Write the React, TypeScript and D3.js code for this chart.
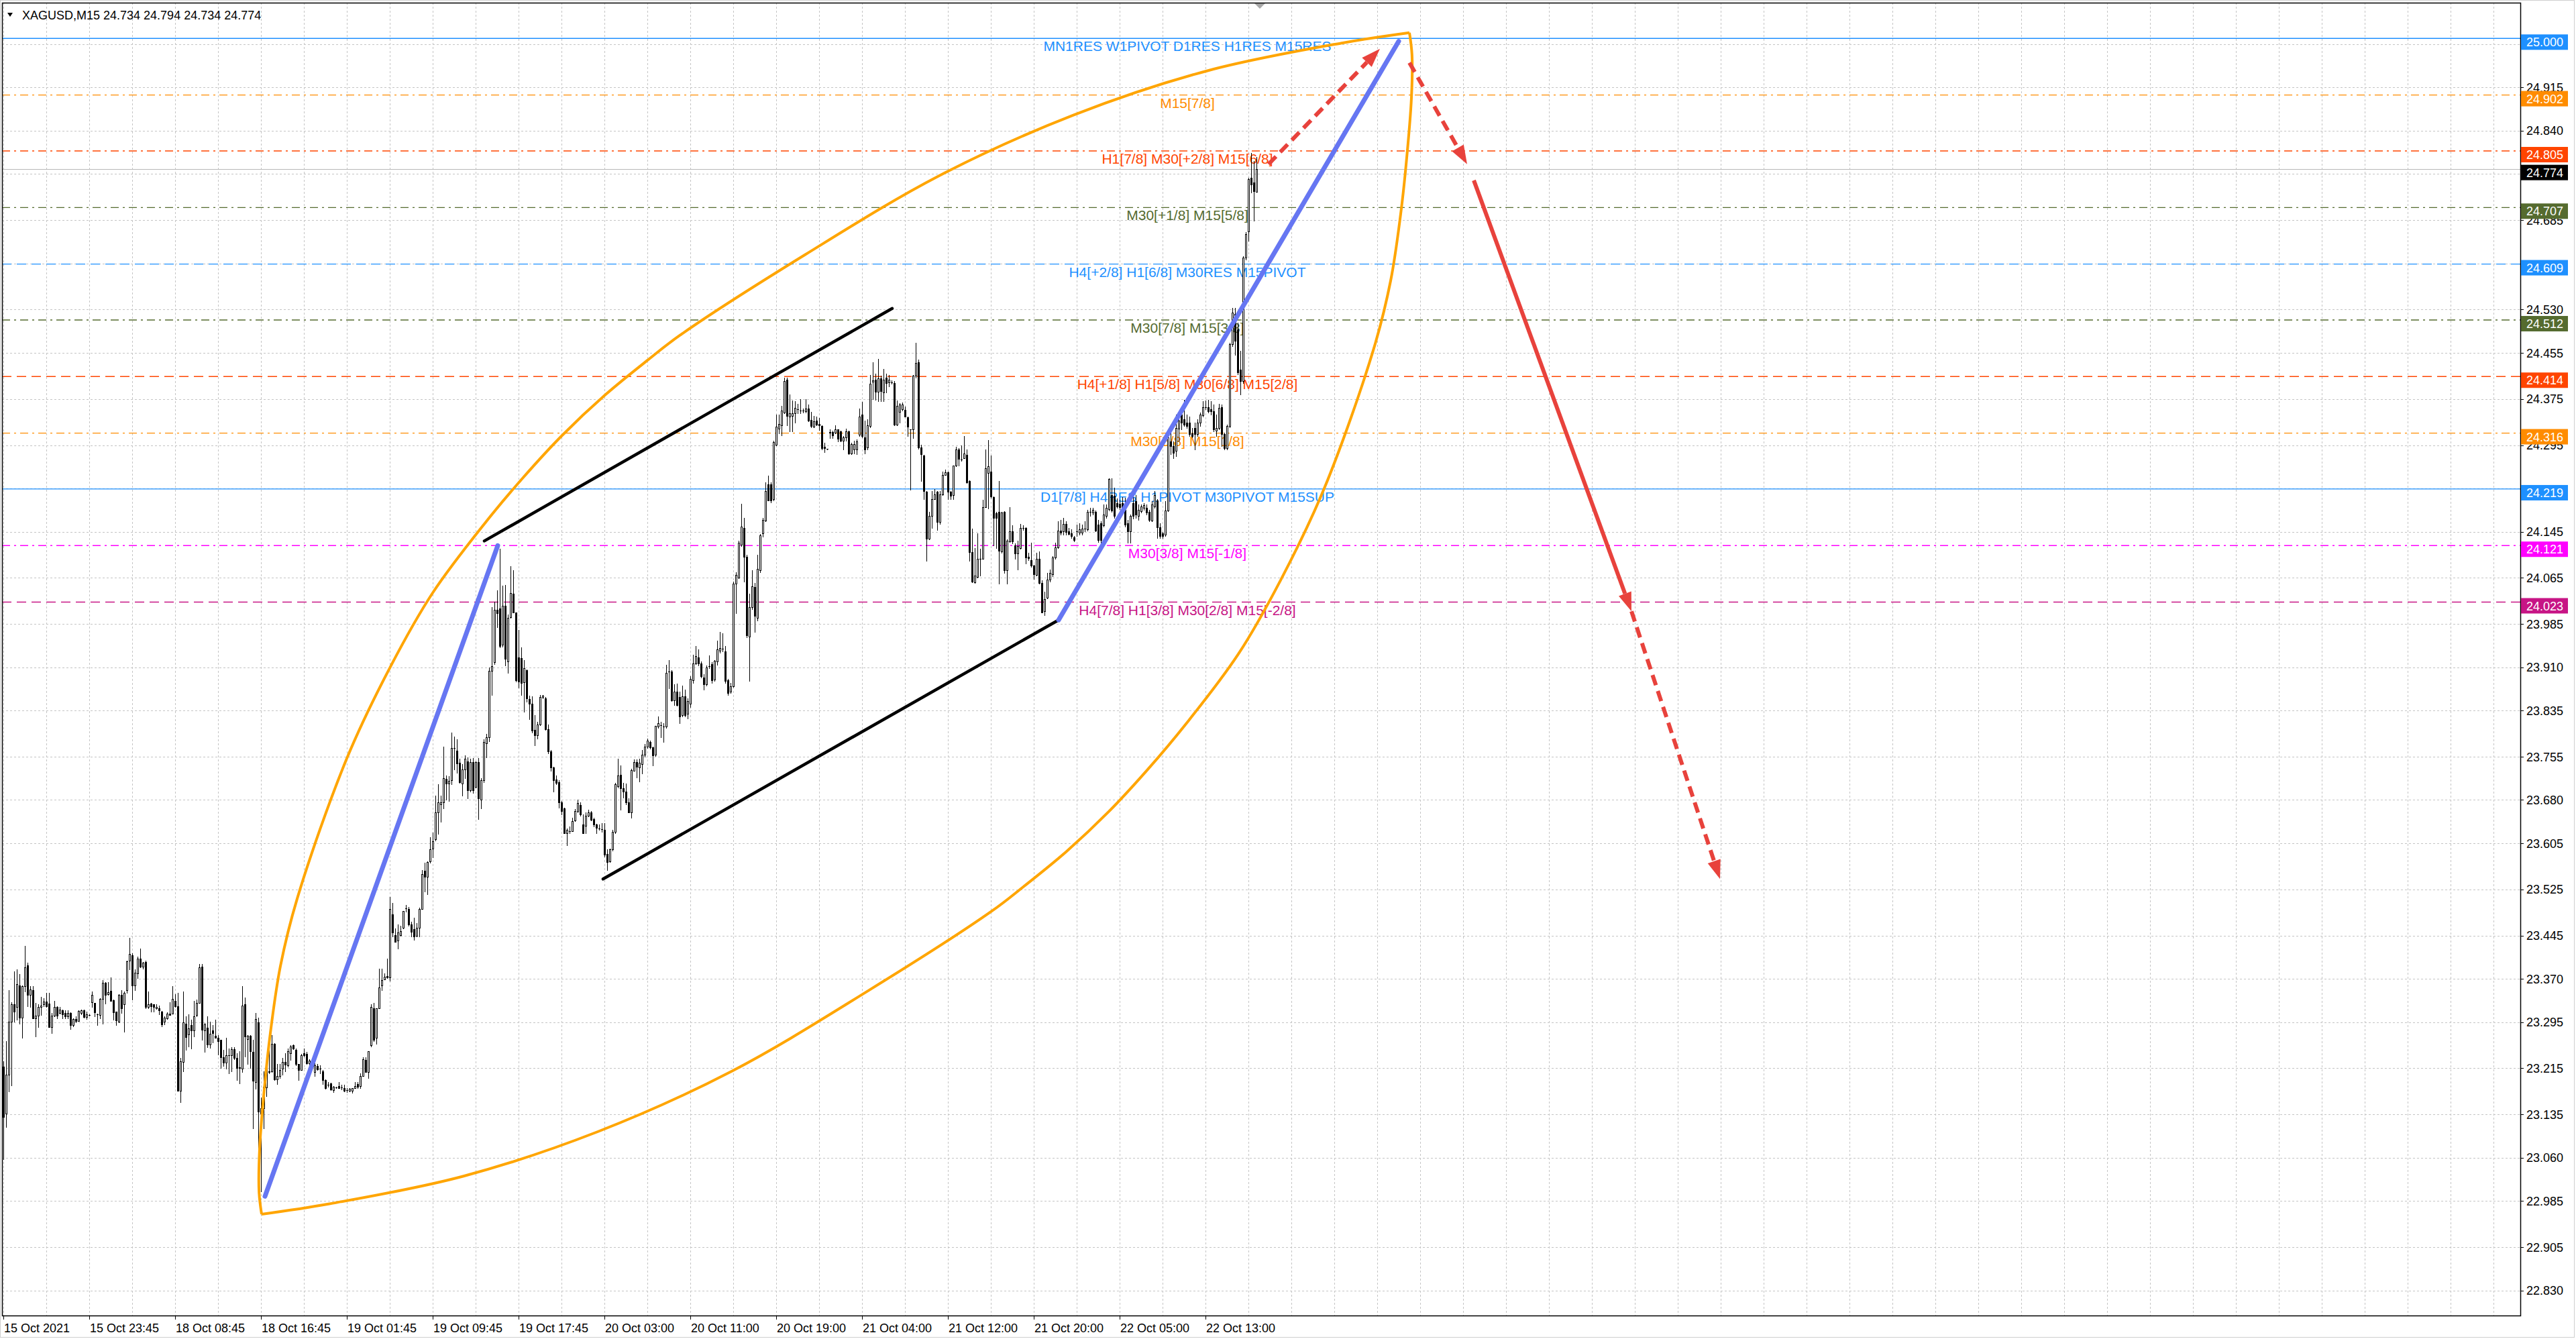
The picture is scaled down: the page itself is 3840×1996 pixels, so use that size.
import React from "react";
import * as d3 from "d3";

const W = 3840;
const H = 1996;

// ---------- OHLC data (XAGUSD M15), bar 0 = 15 Oct 2021 ----------
const openP = [
23.218,23.136,23.204,23.296,23.326,23.321,23.358,23.303,23.357,23.393,
23.342,23.350,23.302,23.306,23.321,23.326,23.331,23.327,23.286,23.306,
23.321,23.311,23.315,23.311,23.305,23.311,23.290,23.300,23.297,23.311,
23.315,23.304,23.307,23.330,23.328,23.309,23.307,23.335,23.363,23.343,
23.349,23.333,23.313,23.296,23.342,23.326,23.350,23.401,23.411,23.358,
23.379,23.405,23.391,23.399,23.321,23.327,23.326,23.319,23.319,23.313,
23.296,23.301,23.310,23.310,23.332,23.323,23.176,23.226,23.292,23.274,
23.290,23.280,23.307,23.328,23.391,23.280,23.285,23.256,23.280,23.271,
23.268,23.264,23.234,23.225,23.237,23.238,23.248,23.233,23.217,23.214,
23.326,23.266,23.271,23.243,23.191,23.295,23.136,23.146,23.182,23.208,
23.210,23.257,23.196,23.202,23.214,23.226,23.220,23.241,23.255,23.247,
23.222,23.212,23.241,23.240,23.224,23.224,23.209,23.219,23.214,23.210,
23.195,23.186,23.189,23.177,23.182,23.184,23.182,23.180,23.177,23.176,
23.176,23.181,23.188,23.184,23.202,23.229,23.208,23.255,23.319,23.268,
23.319,23.358,23.369,23.375,23.372,23.482,23.446,23.436,23.446,23.458,
23.492,23.491,23.464,23.456,23.444,23.458,23.491,23.557,23.547,23.574,
23.596,23.612,23.659,23.673,23.676,23.717,23.708,23.714,23.770,23.766,
23.744,23.709,23.733,23.747,23.697,23.746,23.703,23.746,23.680,23.714,
23.778,23.789,23.904,23.919,24.010,24.012,23.949,24.017,23.920,23.997,
24.037,24.005,23.927,23.926,23.884,23.905,23.855,23.847,23.801,23.792,
23.811,23.858,23.856,23.803,23.764,23.736,23.716,23.711,23.676,23.665,
23.623,23.626,23.626,23.644,23.661,23.671,23.637,23.635,23.653,23.658,
23.647,23.637,23.631,23.629,23.628,23.586,23.574,23.594,23.625,23.704,
23.724,23.700,23.694,23.676,23.659,23.731,23.746,23.736,23.742,23.758,
23.772,23.781,23.771,23.758,23.807,23.810,23.807,23.807,23.903,23.903,
23.853,23.868,23.859,23.827,23.860,23.830,23.847,23.888,23.917,23.927,
23.917,23.892,23.880,23.912,23.915,23.889,23.920,23.939,23.942,23.938,
23.888,23.868,23.877,24.055,24.066,24.123,24.152,24.102,23.963,24.014,
24.049,23.996,24.078,24.142,24.164,24.227,24.227,24.201,24.296,24.324,
24.330,24.352,24.408,24.345,24.346,24.350,24.357,24.355,24.355,24.354,
24.359,24.339,24.327,24.338,24.332,24.328,24.292,24.289,24.317,24.318,
24.317,24.322,24.319,24.303,24.309,24.319,24.280,24.288,24.288,24.313,
24.348,24.309,24.291,24.328,24.405,24.408,24.388,24.411,24.386,24.412,
24.404,24.404,24.403,24.331,24.353,24.357,24.356,24.343,24.322,24.322,
24.415,24.439,24.291,24.277,24.214,24.133,24.172,24.202,24.214,24.162,
24.210,24.243,24.248,24.214,24.208,24.260,24.288,24.270,24.273,24.278,
24.233,24.110,24.057,24.067,24.098,24.098,24.188,24.247,24.249,24.205,
24.177,24.179,24.111,24.179,24.078,24.128,24.146,24.121,24.107,24.117,
24.152,24.152,24.101,24.096,24.086,24.070,24.098,24.056,24.007,24.030,
24.062,24.071,24.100,24.118,24.147,24.146,24.159,24.146,24.142,24.135,
24.146,24.143,24.143,24.150,24.149,24.179,24.178,24.179,24.157,24.160,
24.156,24.172,24.184,24.209,24.207,24.195,24.193,24.195,24.183,24.160,
24.146,24.195,24.198,24.172,24.181,24.186,24.186,24.179,24.164,24.189,
24.199,24.153,24.142,24.140,24.182,24.302,24.293,24.285,24.324,24.348,
24.340,24.334,24.334,24.316,24.325,24.314,24.334,24.347,24.361,24.361,
24.357,24.354,24.320,24.325,24.361,24.314,24.290,24.328,24.470,24.522,
24.496,24.426,24.406,24.620,24.666,24.759,24.750,24.734
];

const highP = [
23.227,23.262,23.350,23.330,23.383,23.386,23.378,23.359,23.427,23.398,
23.357,23.357,23.328,23.326,23.339,23.336,23.346,23.346,23.311,23.332,
23.322,23.321,23.317,23.315,23.315,23.312,23.301,23.305,23.316,23.317,
23.317,23.313,23.308,23.348,23.328,23.310,23.336,23.368,23.364,23.364,
23.372,23.334,23.313,23.343,23.350,23.348,23.401,23.441,23.414,23.386,
23.408,23.422,23.399,23.402,23.348,23.328,23.326,23.326,23.324,23.314,
23.305,23.312,23.329,23.357,23.343,23.346,23.233,23.348,23.305,23.309,
23.299,23.332,23.334,23.396,23.396,23.293,23.305,23.296,23.290,23.299,
23.272,23.264,23.247,23.268,23.249,23.251,23.251,23.241,23.245,23.357,
23.338,23.272,23.272,23.264,23.311,23.303,23.164,23.210,23.222,23.272,
23.272,23.258,23.222,23.222,23.233,23.241,23.249,23.255,23.256,23.249,
23.222,23.240,23.249,23.243,23.231,23.226,23.224,23.223,23.220,23.212,
23.196,23.191,23.190,23.184,23.183,23.191,23.186,23.186,23.180,23.180,
23.181,23.191,23.191,23.206,23.234,23.234,23.244,23.326,23.328,23.319,
23.388,23.388,23.379,23.405,23.512,23.502,23.457,23.464,23.462,23.488,
23.498,23.495,23.469,23.476,23.467,23.493,23.558,23.571,23.574,23.616,
23.624,23.688,23.707,23.688,23.773,23.723,23.721,23.797,23.790,23.785,
23.752,23.742,23.757,23.754,23.751,23.753,23.747,23.753,23.718,23.785,
23.794,23.910,24.014,24.024,24.043,24.115,24.051,24.053,24.001,24.085,
24.078,24.005,23.975,23.945,23.922,23.906,23.861,23.860,23.827,23.816,
23.862,23.862,23.859,23.811,23.767,23.738,23.722,23.714,23.678,23.667,
23.631,23.634,23.649,23.664,23.681,23.676,23.655,23.658,23.663,23.661,
23.649,23.639,23.637,23.640,23.640,23.594,23.596,23.628,23.710,23.752,
23.740,23.710,23.708,23.683,23.734,23.750,23.750,23.752,23.767,23.777,
23.786,23.783,23.773,23.809,23.825,23.816,23.813,23.914,23.923,23.905,
23.880,23.882,23.868,23.878,23.871,23.856,23.894,23.932,23.947,23.941,
23.920,23.898,23.913,23.930,23.919,23.923,23.956,23.971,23.969,23.947,
23.890,23.883,24.059,24.075,24.129,24.193,24.169,24.105,24.038,24.078,
24.056,24.105,24.141,24.169,24.230,24.242,24.230,24.303,24.348,24.348,
24.363,24.412,24.412,24.383,24.373,24.371,24.367,24.375,24.359,24.375,
24.365,24.353,24.346,24.344,24.342,24.330,24.299,24.289,24.322,24.320,
24.330,24.322,24.320,24.311,24.324,24.320,24.299,24.303,24.305,24.358,
24.370,24.338,24.340,24.417,24.439,24.419,24.444,24.415,24.427,24.419,
24.417,24.407,24.406,24.373,24.368,24.369,24.362,24.344,24.323,24.417,
24.472,24.443,24.296,24.278,24.216,24.179,24.216,24.219,24.216,24.216,
24.249,24.253,24.249,24.216,24.260,24.292,24.290,24.295,24.311,24.288,
24.234,24.150,24.117,24.142,24.115,24.200,24.288,24.304,24.277,24.206,
24.179,24.233,24.179,24.180,24.132,24.188,24.156,24.125,24.129,24.158,
24.156,24.153,24.109,24.126,24.088,24.109,24.111,24.061,24.041,24.074,
24.079,24.103,24.126,24.163,24.166,24.169,24.163,24.152,24.149,24.137,
24.157,24.160,24.157,24.163,24.183,24.186,24.186,24.182,24.166,24.163,
24.192,24.192,24.237,24.237,24.221,24.203,24.200,24.205,24.204,24.166,
24.175,24.205,24.209,24.192,24.192,24.194,24.192,24.183,24.198,24.215,
24.201,24.160,24.145,24.198,24.322,24.319,24.302,24.348,24.348,24.354,
24.374,24.348,24.345,24.325,24.334,24.340,24.351,24.371,24.372,24.374,
24.371,24.366,24.348,24.367,24.366,24.317,24.331,24.473,24.533,24.533,
24.507,24.458,24.623,24.664,24.759,24.802,24.788,24.794
];

const lowP = [
23.057,23.113,23.175,23.185,23.296,23.299,23.292,23.268,23.348,23.322,
23.321,23.301,23.270,23.286,23.307,23.322,23.321,23.286,23.276,23.305,
23.302,23.310,23.302,23.301,23.301,23.283,23.288,23.295,23.297,23.309,
23.303,23.300,23.306,23.321,23.305,23.290,23.301,23.292,23.327,23.342,
23.332,23.299,23.290,23.295,23.311,23.278,23.346,23.386,23.334,23.350,
23.371,23.390,23.388,23.319,23.319,23.313,23.313,23.318,23.309,23.288,
23.291,23.300,23.307,23.310,23.321,23.176,23.156,23.210,23.247,23.253,
23.249,23.270,23.305,23.328,23.264,23.243,23.251,23.250,23.260,23.268,
23.239,23.216,23.219,23.214,23.206,23.210,23.231,23.195,23.189,23.208,
23.235,23.222,23.216,23.111,23.179,23.063,23.001,23.111,23.167,23.206,
23.208,23.195,23.187,23.198,23.204,23.210,23.218,23.229,23.248,23.220,
23.195,23.212,23.235,23.222,23.218,23.218,23.202,23.212,23.206,23.187,
23.179,23.183,23.177,23.174,23.181,23.181,23.178,23.175,23.174,23.175,
23.172,23.180,23.180,23.180,23.201,23.208,23.198,23.253,23.262,23.257,
23.319,23.350,23.369,23.371,23.367,23.443,23.434,23.422,23.445,23.457,
23.486,23.462,23.443,23.438,23.443,23.443,23.491,23.521,23.517,23.571,
23.581,23.610,23.621,23.642,23.666,23.680,23.678,23.707,23.733,23.727,
23.710,23.687,23.718,23.683,23.695,23.692,23.702,23.647,23.666,23.711,
23.754,23.782,23.862,23.915,23.979,23.945,23.946,23.913,23.900,23.996,
24.005,23.885,23.875,23.862,23.833,23.850,23.820,23.797,23.775,23.786,
23.810,23.856,23.801,23.761,23.731,23.694,23.707,23.667,23.655,23.622,
23.602,23.622,23.626,23.643,23.659,23.653,23.622,23.622,23.652,23.645,
23.634,23.623,23.628,23.625,23.582,23.558,23.573,23.592,23.623,23.701,
23.663,23.684,23.673,23.658,23.649,23.730,23.719,23.712,23.726,23.755,
23.770,23.769,23.740,23.756,23.805,23.789,23.781,23.805,23.874,23.851,
23.844,23.843,23.813,23.825,23.825,23.821,23.841,23.883,23.915,23.913,
23.892,23.871,23.878,23.909,23.883,23.886,23.914,23.935,23.938,23.883,
23.862,23.866,23.876,24.004,24.064,24.120,24.059,23.962,23.886,24.011,
23.971,23.991,24.075,24.136,24.163,24.199,24.196,24.199,24.294,24.315,
24.312,24.350,24.329,24.319,24.319,24.334,24.350,24.350,24.351,24.351,
24.336,24.326,24.326,24.329,24.321,24.288,24.283,24.288,24.307,24.307,
24.315,24.301,24.301,24.288,24.303,24.279,24.279,24.280,24.279,24.311,
24.309,24.280,24.288,24.326,24.375,24.374,24.371,24.371,24.371,24.386,
24.397,24.402,24.330,24.330,24.334,24.355,24.344,24.311,24.218,24.307,
24.412,24.289,24.233,24.202,24.094,24.132,24.152,24.201,24.148,24.158,
24.208,24.243,24.202,24.202,24.202,24.258,24.260,24.268,24.272,24.229,
24.094,24.057,24.056,24.065,24.069,24.098,24.187,24.185,24.204,24.121,
24.117,24.055,24.109,24.074,24.055,24.127,24.125,24.098,24.080,24.115,
24.148,24.090,24.096,24.084,24.063,24.069,24.055,24.005,24.000,24.029,
24.059,24.068,24.098,24.117,24.140,24.140,24.140,24.140,24.134,24.128,
24.137,24.140,24.140,24.146,24.147,24.172,24.175,24.146,24.127,24.125,
24.154,24.169,24.182,24.179,24.169,24.186,24.184,24.183,24.154,24.126,
24.126,24.168,24.169,24.166,24.178,24.183,24.175,24.163,24.163,24.186,
24.134,24.134,24.134,24.137,24.181,24.279,24.273,24.276,24.302,24.322,
24.328,24.325,24.311,24.308,24.288,24.311,24.328,24.345,24.357,24.351,
24.348,24.319,24.311,24.322,24.293,24.287,24.287,24.326,24.467,24.452,
24.418,24.383,24.403,24.617,24.649,24.733,24.684,24.734
];

const closeP = [
23.131,23.204,23.296,23.326,23.313,23.361,23.303,23.357,23.390,23.342,
23.352,23.302,23.306,23.321,23.324,23.331,23.323,23.286,23.306,23.321,
23.306,23.317,23.308,23.305,23.311,23.290,23.300,23.297,23.314,23.315,
23.304,23.309,23.307,23.342,23.312,23.308,23.335,23.363,23.342,23.347,
23.332,23.312,23.298,23.342,23.319,23.346,23.400,23.413,23.358,23.381,
23.405,23.391,23.398,23.321,23.326,23.323,23.321,23.321,23.315,23.291,
23.303,23.310,23.307,23.335,23.322,23.176,23.227,23.294,23.269,23.284,
23.280,23.305,23.328,23.390,23.282,23.291,23.256,23.275,23.276,23.268,
23.262,23.234,23.225,23.237,23.238,23.248,23.233,23.216,23.216,23.324,
23.270,23.271,23.244,23.193,23.300,23.140,23.146,23.183,23.214,23.210,
23.257,23.196,23.202,23.212,23.226,23.221,23.244,23.253,23.249,23.222,
23.212,23.238,23.238,23.224,23.228,23.220,23.220,23.213,23.214,23.195,
23.181,23.186,23.178,23.183,23.182,23.181,23.182,23.176,23.177,23.179,
23.181,23.184,23.183,23.202,23.231,23.209,23.244,23.321,23.264,23.319,
23.355,23.368,23.374,23.372,23.491,23.450,23.434,23.450,23.453,23.487,
23.492,23.464,23.452,23.443,23.458,23.491,23.552,23.547,23.573,23.595,
23.609,23.659,23.676,23.676,23.718,23.708,23.713,23.770,23.770,23.743,
23.711,23.733,23.752,23.697,23.746,23.697,23.746,23.683,23.714,23.780,
23.789,23.904,23.912,24.010,24.004,23.947,24.017,23.925,23.996,24.039,
24.005,23.888,23.885,23.883,23.909,23.856,23.847,23.800,23.792,23.811,
23.859,23.861,23.803,23.764,23.736,23.714,23.710,23.676,23.661,23.622,
23.628,23.626,23.643,23.661,23.675,23.655,23.622,23.653,23.659,23.646,
23.637,23.632,23.631,23.629,23.585,23.573,23.594,23.625,23.707,23.722,
23.700,23.694,23.676,23.659,23.732,23.746,23.737,23.744,23.758,23.772,
23.783,23.771,23.757,23.809,23.813,23.810,23.807,23.900,23.903,23.853,
23.868,23.845,23.825,23.860,23.827,23.851,23.890,23.917,23.929,23.917,
23.895,23.880,23.910,23.912,23.888,23.921,23.941,23.943,23.942,23.886,
23.865,23.877,24.055,24.070,24.126,24.154,24.102,23.965,24.014,24.050,
23.999,24.081,24.139,24.166,24.215,24.199,24.199,24.300,24.327,24.332,
24.355,24.406,24.346,24.350,24.350,24.360,24.357,24.355,24.355,24.359,
24.338,24.328,24.336,24.331,24.330,24.290,24.290,24.289,24.318,24.312,
24.322,24.306,24.303,24.308,24.319,24.280,24.297,24.297,24.302,24.344,
24.311,24.288,24.329,24.402,24.407,24.388,24.411,24.389,24.408,24.403,
24.408,24.404,24.331,24.363,24.365,24.365,24.345,24.327,24.322,24.416,
24.438,24.291,24.279,24.216,24.133,24.172,24.202,24.210,24.162,24.210,
24.243,24.248,24.214,24.207,24.260,24.288,24.271,24.270,24.280,24.230,
24.110,24.058,24.069,24.098,24.098,24.188,24.255,24.258,24.206,24.169,
24.169,24.112,24.178,24.078,24.129,24.146,24.128,24.107,24.120,24.152,
24.152,24.100,24.099,24.086,24.071,24.098,24.056,24.005,24.028,24.062,
24.074,24.100,24.118,24.147,24.143,24.159,24.145,24.141,24.137,24.130,
24.146,24.149,24.150,24.150,24.179,24.179,24.183,24.147,24.131,24.131,
24.175,24.186,24.236,24.182,24.172,24.189,24.187,24.186,24.157,24.146,
24.172,24.172,24.175,24.183,24.189,24.191,24.178,24.166,24.192,24.209,
24.153,24.137,24.137,24.182,24.308,24.293,24.282,24.325,24.338,24.334,
24.331,24.328,24.314,24.311,24.314,24.334,24.348,24.361,24.361,24.354,
24.354,24.322,24.325,24.360,24.314,24.290,24.328,24.470,24.525,24.476,
24.421,24.406,24.620,24.661,24.756,24.747,24.735,24.774
];

// ---------- axes ----------
const dateLabels = [
  "15 Oct 2021", "15 Oct 23:45", "18 Oct 08:45", "18 Oct 16:45", "19 Oct 01:45",
  "19 Oct 09:45", "19 Oct 17:45", "20 Oct 03:00", "20 Oct 11:00", "20 Oct 19:00",
  "21 Oct 04:00", "21 Oct 12:00", "21 Oct 20:00", "22 Oct 05:00", "22 Oct 13:00",
];
const barsPerDateLabel = 32;
const barsPerGridLine = 16;
const totalBarSlots = 938;

// grid rows (every tick) and the tick labels that are visible on the price scale
const gridPrices = [
  24.99, 24.915, 24.84, 24.765, 24.685, 24.61, 24.53, 24.455, 24.375, 24.295, 24.22, 24.145,
  24.065, 23.985, 23.91, 23.835, 23.755, 23.68, 23.605, 23.525, 23.445, 23.37, 23.295, 23.215,
  23.135, 23.06, 22.985, 22.905, 22.83,
];
const priceTickLabels = [
  "24.915", "24.840", "24.765", "24.685", "24.530", "24.455", "24.375", "24.295",
  "24.145", "24.065", "23.985", "23.910", "23.835", "23.755", "23.680", "23.605",
  "23.525", "23.445", "23.370", "23.295", "23.215", "23.135", "23.060", "22.985",
  "22.905", "22.830",
];

// ---------- Murrey / pivot levels ----------
const levelPrices = [25.0, 24.902, 24.805, 24.707, 24.609, 24.512, 24.414, 24.316, 24.219, 24.121, 24.023];
const levelNames = [
  "MN1RES W1PIVOT D1RES H1RES M15RES",
  "M15[7/8]",
  "H1[7/8] M30[+2/8] M15[6/8]",
  "M30[+1/8] M15[5/8]",
  "H4[+2/8] H1[6/8] M30RES M15PIVOT",
  "M30[7/8] M15[3/8]",
  "H4[+1/8] H1[5/8] M30[6/8] M15[2/8]",
  "M30[5/8] M15[1/8]",
  "D1[7/8] H4RES H1PIVOT M30PIVOT M15SUP",
  "M30[3/8] M15[-1/8]",
  "H4[7/8] H1[3/8] M30[2/8] M15[-2/8]",
];
const levelColors = ["#1E90FF", "#FF8C00", "#FF4500", "#556B2F", "#1E90FF", "#556B2F", "#FF4500", "#FF8C00", "#1E90FF", "#FF00FF", "#C71585"];
const levelStyles = ["solid", "dashdot", "dashdot", "dashdot", "dash", "dashdot", "dash", "dashdot", "solid", "dashdot", "dash"];
const levelTextBar = 441.25;

const symbolHeader = "XAGUSD,M15  24.734 24.794 24.734 24.774";
const currentPrice = 24.774;
const currentPriceLabel = "24.774";

// ---------- drawn objects, in (bar index, price) ----------
const blueTrend1: [number, number][] = [[97.5, 22.993], [184.25, 24.121]];
const blueTrend2: [number, number][] = [[393.25, 23.992], [520, 24.995]];
const channelUpper: [number, number][] = [[179.25, 24.129], [331.25, 24.532]];
const channelLower: [number, number][] = [[223.5, 23.543], [393.25, 23.992]];

const arcUpper: [number, number][] = [
  [96.25, 22.962], [95.3, 23.0], [95.5, 23.075], [97.5, 23.191], [99.5, 23.276], [103.25, 23.392],
  [109.5, 23.509], [128, 23.752], [144.25, 23.911], [160, 24.039], [179.5, 24.16], [193.75, 24.239],
  [208.25, 24.312], [224.25, 24.382], [240, 24.442], [252, 24.485], [298.75, 24.625], [348.75, 24.762],
  [398.75, 24.867], [448.75, 24.944], [498.75, 24.992], [524, 25.01],
];
const arcLower: [number, number][] = [
  [96.25, 22.962], [121.5, 22.98], [171.5, 23.028], [221.5, 23.105], [271.5, 23.21], [321.5, 23.347],
  [368.25, 23.487], [380.25, 23.53], [396, 23.59], [412, 23.66], [426.5, 23.733], [440.75, 23.812],
  [460.25, 23.933], [476, 24.061], [492.25, 24.22], [510.75, 24.463], [517, 24.58], [520.75, 24.696],
  [522.75, 24.781], [524.75, 24.897], [524.95, 24.972], [524, 25.01],
];

const arrowFrom: [number, number][] = [[471.5, 24.782], [524, 24.958], [548, 24.754], [606.75, 24.007]];
const arrowTo: [number, number][] = [[513, 24.982], [545.5, 24.782], [606.75, 24.007], [639.75, 23.543]];
const arrowDashed = [true, true, false, true];

// ---------- layout ----------
const PLOT = { left: 3, top: 4, right: 3757, bottom: 1961 };
const FONT = "'Liberation Sans', Arial, sans-serif";

export default function App() {
  const x = d3.scaleLinear().domain([0, totalBarSlots]).range([5, PLOT.right]);
  const y = d3.scaleLinear().domain([22.83, 24.915]).range([1923.5, 130.4]);

  const line = d3
    .line<[number, number]>()
    .x((d) => x(d[0]))
    .y((d) => y(d[1]));
  const curve = d3
    .line<[number, number]>()
    .x((d) => x(d[0]))
    .y((d) => y(d[1]))
    .curve(d3.curveCatmullRom.alpha(0.5));

  const dashFor = (s: string) => (s === "dash" ? "14,8" : s === "dashdot" ? "12,6,3,6" : undefined);

  const gridX = d3.range(0, totalBarSlots + 1, barsPerGridLine);

  const arrows = arrowFrom.map((f, k) => {
    const t = arrowTo[k];
    const x1 = x(f[0]), y1 = y(f[1]), x2 = x(t[0]), y2 = y(t[1]);
    const dx = x2 - x1, dy = y2 - y1;
    const len = Math.hypot(dx, dy);
    const ux = dx / len, uy = dy / len;
    const L = 28, hw = 10;
    const bx = x2 - ux * L, by = y2 - uy * L;
    const head = `M${x2},${y2}L${bx - uy * hw},${by + ux * hw}L${bx + uy * hw},${by - ux * hw}Z`;
    return { x1, y1, bx, by, head, dashed: arrowDashed[k] };
  });

  const lastBarX = x(closeP.length - 1);
  // price-scale boxes sit slightly below their level, as in the terminal
  const boxTop = (p: number) => y(p) - 6;
  const boxH = 23;

  return (
    <div style={{ width: W, height: H }}>
      <style>{`body{margin:0;overflow:hidden;background:#fff}`}</style>
      <svg width={W} height={H} viewBox={`0 0 ${W} ${H}`} style={{ display: "block", fontFamily: FONT }}>
        <defs>
          <clipPath id="plotClip">
            <rect x={PLOT.left} y={PLOT.top} width={PLOT.right - PLOT.left} height={PLOT.bottom - PLOT.top} />
          </clipPath>
        </defs>
        <rect x={0} y={0} width={W} height={H} fill="#ffffff" />
        <rect x={0.5} y={0.5} width={3837} height={1993} fill="none" stroke="#cfcfcf" strokeWidth={1} />

        <g clipPath="url(#plotClip)">
          {/* grid */}
          {gridPrices.map((t) => (
            <line key={"hg" + t} x1={PLOT.left} x2={PLOT.right} y1={Math.round(y(t)) + 0.5} y2={Math.round(y(t)) + 0.5}
              stroke="#c4c4c4" strokeWidth={1} strokeDasharray="3,3" />
          ))}
          {gridX.map((g) => (
            <line key={"vg" + g} x1={Math.round(x(g)) + 0.5} x2={Math.round(x(g)) + 0.5} y1={PLOT.top} y2={PLOT.bottom}
              stroke="#c4c4c4" strokeWidth={1} strokeDasharray="3,3" />
          ))}

          {/* level lines */}
          {levelPrices.map((p, k) => (
            <line key={"lv" + k} x1={PLOT.left} x2={PLOT.right} y1={y(p)} y2={y(p)} stroke={levelColors[k]}
              strokeWidth={k === 0 ? 1.6 : 1.3} strokeDasharray={dashFor(levelStyles[k])} />
          ))}
          {/* current price line */}
          <line x1={PLOT.left} x2={PLOT.right} y1={Math.round(y(currentPrice)) + 0.5} y2={Math.round(y(currentPrice)) + 0.5}
            stroke="#b8b8b8" strokeWidth={1} />

          {/* level texts */}
          {levelPrices.map((p, k) => (
            <text key={"lt" + k} x={x(levelTextBar)} y={y(p) + 19} textAnchor="middle" fontSize={21} fill={levelColors[k]}>
              {levelNames[k]}
            </text>
          ))}

          {/* candles */}
          <g shapeRendering="crispEdges">
            {openP.map((o, i) => {
              const c = closeP[i];
              const cx = Math.round(x(i));
              const yo = y(o), yc = y(c);
              const top = Math.round(Math.min(yo, yc));
              const bot = Math.round(Math.max(yo, yc));
              const yh = Math.round(y(Math.max(highP[i], o, c)));
              const yl = Math.round(y(Math.min(lowP[i], o, c)));
              const bull = c >= o;
              return (
                <g key={"c" + i}>
                  <line x1={cx + 0.5} x2={cx + 0.5} y1={yh} y2={yl + 1} stroke="#000" strokeWidth={1} />
                  {bot - top < 1 ? (
                    <line x1={cx - 1} x2={cx + 2} y1={top + 0.5} y2={top + 0.5} stroke="#000" strokeWidth={1} />
                  ) : (
                    <rect x={cx - 0.5} y={top + 0.5} width={2} height={bot - top} fill={bull ? "#fff" : "#000"} stroke="#000" strokeWidth={1} />
                  )}
                </g>
              );
            })}
          </g>

          {/* orange ellipse */}
          <path d={curve(arcUpper) || ""} fill="none" stroke="#FFA500" strokeWidth={4} strokeLinejoin="round" />
          <path d={curve(arcLower) || ""} fill="none" stroke="#FFA500" strokeWidth={4} strokeLinejoin="round" />

          {/* channel */}
          <path d={line(channelUpper) || ""} stroke="#000" strokeWidth={4.5} strokeLinecap="round" />
          <path d={line(channelLower) || ""} stroke="#000" strokeWidth={4.5} strokeLinecap="round" />

          {/* blue trend lines */}
          <path d={line(blueTrend1) || ""} stroke="#6676F2" strokeWidth={7} strokeLinecap="round" />
          <path d={line(blueTrend2) || ""} stroke="#6676F2" strokeWidth={7} strokeLinecap="round" />

          {/* red arrows */}
          {arrows.map((a, k) => (
            <g key={"ar" + k}>
              <line x1={a.x1} y1={a.y1} x2={a.bx} y2={a.by} stroke="#E8423C" strokeWidth={6}
                strokeDasharray={a.dashed ? "16,9" : undefined} />
              <path d={a.head} fill="#E8423C" />
            </g>
          ))}
        </g>

        {/* chart shift marker */}
        <path d={`M${lastBarX - 3},${PLOT.top + 1}L${lastBarX + 13},${PLOT.top + 1}L${lastBarX + 5},${PLOT.top + 9}Z`} fill="#a8a8a8" />

        {/* frame */}
        <rect x={PLOT.left + 0.5} y={PLOT.top + 0.5} width={PLOT.right - PLOT.left} height={PLOT.bottom - PLOT.top}
          fill="none" stroke="#000" strokeWidth={1.5} />

        {/* header */}
        <path d="M11,19L19,19L15,25Z" fill="#000" />
        <text x={33} y={29} fontSize={18} fill="#000">{symbolHeader}</text>

        {/* price axis */}
        {gridPrices.map((t) => (
          <line key={"ptk" + t} x1={PLOT.right} x2={PLOT.right + 5} y1={Math.round(y(t)) + 0.5} y2={Math.round(y(t)) + 0.5} stroke="#000" />
        ))}
        {priceTickLabels.map((t) => (
          <text key={"pt" + t} x={3766} y={y(+t) + 6.5} fontSize={18} fill="#000">{t}</text>
        ))}
        {levelPrices.map((p, k) => (
          <g key={"pl" + k}>
            <rect x={3758} y={boxTop(p)} width={70} height={boxH} fill={levelColors[k]} />
            <text x={3766} y={boxTop(p) + 18} fontSize={18} fill="#fff">{p.toFixed(3)}</text>
          </g>
        ))}
        <rect x={3758} y={boxTop(currentPrice)} width={70} height={boxH} fill="#000" />
        <text x={3766} y={boxTop(currentPrice) + 18} fontSize={18} fill="#fff">{currentPriceLabel}</text>

        {/* time axis */}
        {dateLabels.map((lab, k) => {
          const tx = Math.round(x(k * barsPerDateLabel));
          return (
            <g key={"dl" + k}>
              <line x1={tx + 0.5} x2={tx + 0.5} y1={PLOT.bottom} y2={PLOT.bottom + 6} stroke="#000" />
              <text x={tx + 1} y={1986} fontSize={18} fill="#000">{lab}</text>
            </g>
          );
        })}
      </svg>
    </div>
  );
}
